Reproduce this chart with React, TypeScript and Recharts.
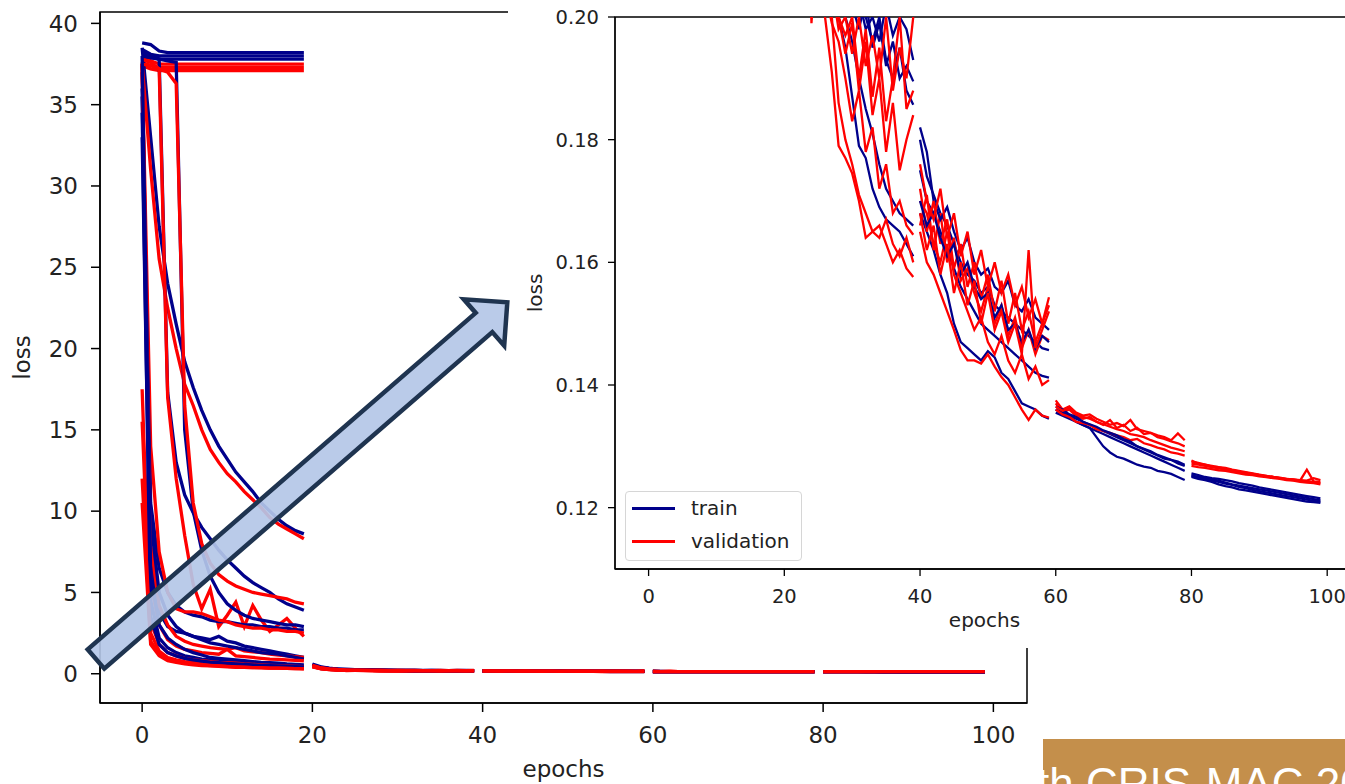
import { Line, LineChart, ReferenceArea, XAxis, YAxis } from "recharts";

const NAVY = "#00008b";
const RED = "#ff0000";
const INK = "#222222";
const FONT = "'DejaVu Sans', sans-serif";

const epochTicks = [0, 20, 40, 60, 80, 100];
const lossTicks = [0, 5, 10, 15, 20, 25, 30, 35, 40];
const zoomLossTicks = [0.12, 0.14, 0.16, 0.18, 0.2];
const epochDomain: [number, number] = [-4.95, 103.95];
const lossDomain: [number, number] = [-1.8, 40.7];
const zoomLossDomain: [number, number] = [0.11, 0.2];

// training restarts from a checkpoint every 20 epochs
const stageStarts = [0, 20, 40, 60, 80];

// stage 0: epochs 0-19
const train0 = [
    [38.8, 38.7, 38.3, 38.2, 38.2, 38.2, 38.2, 38.2, 38.2, 38.2, 38.2, 38.2, 38.2, 38.2, 38.2, 38.2, 38.2, 38.2, 38.2, 38.2],
    [38.4, 38.1, 38.0, 38.0, 38.0, 38.0, 38.0, 38.0, 38.0, 38.0, 38.0, 38.0, 38.0, 38.0, 38.0, 38.0, 38.0, 38.0, 38.0, 38.0],
    [38.0, 37.9, 37.8, 37.8, 37.8, 37.8, 37.8, 37.8, 37.8, 37.8, 37.8, 37.8, 37.8, 37.8, 37.8, 37.8, 37.8, 37.8, 37.8, 37.8],
    [38.5, 33.0, 27.5, 24.0, 21.5, 19.2, 17.6, 16.2, 15.0, 14.0, 13.2, 12.4, 11.8, 11.2, 10.5, 10.0, 9.5, 9.1, 8.8, 8.6],
    [38.2, 38.0, 37.8, 17.3, 13.0, 11.0, 9.9, 9.0, 8.3, 7.6, 7.0, 6.5, 6.0, 5.6, 5.3, 5.0, 4.6, 4.3, 4.1, 3.9],
    [38.0, 37.9, 37.8, 37.7, 37.6, 15.0, 10.0, 7.6, 6.0, 5.0, 4.3, 3.9, 3.6, 3.4, 3.3, 3.2, 3.1, 3.0, 3.0, 2.9],
    [37.0, 10.5, 6.5, 5.0, 4.2, 3.8, 3.6, 3.5, 3.3, 3.2, 3.2, 3.1, 3.0, 3.0, 2.9, 2.9, 2.8, 2.8, 2.7, 2.7],
    [35.5, 7.0, 3.8, 2.9, 2.6, 2.5, 2.3, 2.2, 2.1, 2.3, 2.0, 1.9, 1.7, 1.6, 1.5, 1.4, 1.3, 1.2, 1.1, 1.0],
    [36.0, 9.5, 5.0, 3.6, 2.9, 2.5, 2.3, 2.1, 1.9, 1.8, 1.7, 1.6, 1.5, 1.4, 1.3, 1.25, 1.2, 1.1, 1.0, 0.9],
    [38.0, 6.0, 3.0, 2.2, 1.8, 1.5, 1.3, 1.15, 1.0, 0.95, 0.9, 0.85, 0.8, 0.75, 0.7, 0.68, 0.65, 0.6, 0.58, 0.55],
    [33.0, 4.5, 2.2, 1.6, 1.3, 1.1, 1.0, 0.9, 0.85, 0.8, 0.75, 0.7, 0.65, 0.6, 0.58, 0.55, 0.52, 0.5, 0.48, 0.45],
    [34.5, 3.5, 1.8, 1.3, 1.1, 0.95, 0.85, 0.78, 0.72, 0.68, 0.64, 0.6, 0.57, 0.54, 0.52, 0.5, 0.48, 0.46, 0.44, 0.42],
];
const val0 = [
    [38.0, 37.7, 37.5, 37.5, 37.5, 37.5, 37.5, 37.5, 37.5, 37.5, 37.5, 37.5, 37.5, 37.5, 37.5, 37.5, 37.5, 37.5, 37.5, 37.5],
    [37.6, 37.4, 37.3, 37.3, 37.3, 37.3, 37.3, 37.3, 37.3, 37.3, 37.3, 37.3, 37.3, 37.3, 37.3, 37.3, 37.3, 37.3, 37.3, 37.3],
    [37.4, 37.2, 37.1, 37.1, 37.1, 37.1, 37.1, 37.1, 37.1, 37.1, 37.1, 37.1, 37.1, 37.1, 37.1, 37.1, 37.1, 37.1, 37.1, 37.1],
    [37.5, 31.0, 25.5, 22.5, 20.0, 17.8, 16.5, 15.0, 13.8, 13.0, 12.3, 11.8, 11.2, 10.7, 10.2, 9.6, 9.2, 8.9, 8.6, 8.3],
    [37.8, 37.6, 37.2, 17.0, 12.0, 8.5, 5.5, 4.0, 5.2, 2.9, 3.6, 4.4, 2.9, 4.2, 3.3, 2.6, 3.0, 3.4, 2.8, 2.3],
    [37.5, 37.4, 37.2, 37.0, 36.3, 16.5, 10.5, 8.0, 6.8, 6.1, 5.7, 5.4, 5.2, 5.0, 4.9, 4.8, 4.7, 4.6, 4.4, 4.3],
    [37.5, 14.0, 7.5, 5.0, 4.0, 3.8, 3.8, 3.7, 3.5, 3.3, 3.2, 3.0, 2.9, 2.8, 2.8, 2.7, 2.7, 2.6, 2.6, 2.5],
    [37.4, 8.0, 4.2, 3.0, 2.3, 2.0, 1.8, 1.7, 1.6, 1.55, 1.5, 1.6, 1.4, 1.35, 1.3, 1.2, 1.15, 1.1, 1.05, 1.0],
    [37.6, 5.5, 3.0, 2.1, 1.7, 1.5, 1.4, 1.3, 1.25, 1.2, 1.5, 1.1, 1.05, 1.0, 0.95, 0.9, 0.88, 0.85, 0.82, 0.8],
    [17.5, 2.5, 1.4, 1.0, 0.85, 0.75, 0.7, 0.62, 0.58, 0.55, 0.5, 0.48, 0.45, 0.42, 0.4, 0.38, 0.36, 0.35, 0.34, 0.32],
    [15.5, 3.2, 1.8, 1.3, 1.1, 0.95, 0.85, 0.8, 0.75, 0.7, 0.68, 0.65, 0.6, 0.58, 0.55, 0.52, 0.5, 0.48, 0.45, 0.43],
    [12.0, 2.0, 1.2, 0.9, 0.75, 0.65, 0.6, 0.55, 0.5, 0.48, 0.45, 0.42, 0.4, 0.38, 0.37, 0.35, 0.34, 0.33, 0.32, 0.3],
    [10.5, 1.8, 1.1, 0.8, 0.7, 0.6, 0.55, 0.5, 0.48, 0.45, 0.43, 0.4, 0.39, 0.38, 0.36, 0.35, 0.34, 0.33, 0.32, 0.31],
];

// stage 1: epochs 20-39
const train1 = [
    [0.45, 0.32, 0.27, 0.245, 0.23, 0.22, 0.21, 0.205, 0.2, 0.195, 0.187, 0.179, 0.177, 0.172, 0.169, 0.167, 0.166, 0.165, 0.163, 0.161],
    [0.5, 0.36, 0.3, 0.26, 0.24, 0.23, 0.22, 0.212, 0.205, 0.2, 0.196, 0.19, 0.185, 0.181, 0.176, 0.172, 0.17, 0.168, 0.167, 0.166],
    [0.55, 0.4, 0.32, 0.28, 0.26, 0.245, 0.232, 0.225, 0.218, 0.212, 0.206, 0.203, 0.198, 0.2, 0.196, 0.202, 0.197, 0.2, 0.198, 0.193],
    [0.52, 0.38, 0.31, 0.27, 0.25, 0.238, 0.228, 0.22, 0.213, 0.208, 0.202, 0.198, 0.203, 0.195, 0.199, 0.192, 0.196, 0.19, 0.192, 0.1895],
    [0.6, 0.42, 0.34, 0.29, 0.265, 0.25, 0.24, 0.23, 0.222, 0.215, 0.21, 0.205, 0.2, 0.196, 0.2, 0.193, 0.19, 0.195, 0.188, 0.1857],
];
const val1 = [
    [0.42, 0.3, 0.25, 0.225, 0.21, 0.204, 0.2, 0.191, 0.179, 0.177, 0.1745, 0.17, 0.164, 0.165, 0.166, 0.163, 0.16, 0.162, 0.159, 0.1576],
    [0.44, 0.32, 0.26, 0.23, 0.215, 0.206, 0.202, 0.2, 0.186, 0.18, 0.176, 0.171, 0.168, 0.165, 0.164, 0.167, 0.163, 0.161, 0.164, 0.16],
    [0.46, 0.33, 0.27, 0.24, 0.222, 0.21, 0.204, 0.199, 0.196, 0.19, 0.183, 0.188, 0.178, 0.182, 0.172, 0.176, 0.168, 0.17, 0.166, 0.1645],
    [0.5, 0.35, 0.29, 0.25, 0.23, 0.218, 0.21, 0.203, 0.2, 0.194, 0.199, 0.188, 0.196, 0.184, 0.19, 0.178, 0.186, 0.175, 0.18, 0.184],
    [0.52, 0.37, 0.3, 0.26, 0.24, 0.226, 0.215, 0.207, 0.2, 0.197, 0.2, 0.19, 0.198, 0.187, 0.195, 0.183, 0.19, 0.2, 0.185, 0.188],
    [0.48, 0.34, 0.28, 0.25, 0.199, 0.215, 0.21, 0.205, 0.198, 0.2, 0.194, 0.2, 0.192, 0.197, 0.19, 0.2, 0.188, 0.195, 0.19, 0.2],
];

// stage 2: epochs 40-59
const train2 = [
    [0.168, 0.165, 0.162, 0.158, 0.155, 0.15, 0.147, 0.146, 0.145, 0.144, 0.1455, 0.1445, 0.142, 0.141, 0.139, 0.137, 0.1365, 0.136, 0.135, 0.1345],
    [0.175, 0.17, 0.168, 0.165, 0.162, 0.159, 0.156, 0.154, 0.152, 0.15, 0.149, 0.148, 0.147, 0.146, 0.145, 0.144, 0.143, 0.142, 0.1415, 0.1412],
    [0.18, 0.174, 0.171, 0.168, 0.166, 0.163, 0.16, 0.158, 0.157, 0.155, 0.156, 0.153, 0.152, 0.151, 0.15, 0.149, 0.148, 0.147, 0.146, 0.1457],
    [0.182, 0.178, 0.17, 0.167, 0.169, 0.165, 0.162, 0.164, 0.16, 0.158, 0.159, 0.156, 0.155, 0.157, 0.153, 0.152, 0.154, 0.151, 0.15, 0.149],
    [0.17, 0.166, 0.168, 0.164, 0.161, 0.163, 0.158, 0.16, 0.156, 0.154, 0.155, 0.151, 0.153, 0.149, 0.15, 0.147, 0.149, 0.146, 0.148, 0.147],
];
const val2 = [
    [0.165, 0.16, 0.158, 0.155, 0.152, 0.149, 0.1457, 0.144, 0.144, 0.1435, 0.145, 0.143, 0.1413, 0.14, 0.138, 0.136, 0.1343, 0.136, 0.135, 0.1347],
    [0.17, 0.168, 0.163, 0.16, 0.165, 0.158, 0.155, 0.152, 0.149, 0.151, 0.147, 0.145, 0.148, 0.144, 0.142, 0.145, 0.141, 0.143, 0.14, 0.1408],
    [0.166, 0.171, 0.162, 0.168, 0.16, 0.164, 0.157, 0.159, 0.155, 0.152, 0.156, 0.15, 0.153, 0.148, 0.151, 0.146, 0.149, 0.145, 0.148, 0.1473],
    [0.172, 0.165, 0.17, 0.163, 0.167, 0.159, 0.163, 0.156, 0.16, 0.154, 0.158, 0.152, 0.157, 0.15, 0.155, 0.149, 0.152, 0.147, 0.15, 0.1543],
    [0.168, 0.162, 0.166, 0.158, 0.163, 0.155, 0.16, 0.153, 0.157, 0.15, 0.155, 0.149, 0.152, 0.147, 0.15, 0.145, 0.162, 0.146, 0.149, 0.152],
    [0.176, 0.17, 0.167, 0.172, 0.164, 0.168, 0.161, 0.165, 0.158, 0.162, 0.156, 0.16, 0.155, 0.158, 0.153, 0.156, 0.151, 0.154, 0.15, 0.153],
];

// stage 3: epochs 60-79
const train3 = [
    [0.136, 0.1355, 0.135, 0.134, 0.1335, 0.133, 0.1315, 0.13, 0.129, 0.1283, 0.128, 0.1275, 0.127, 0.1267, 0.1265, 0.126, 0.1258, 0.1255, 0.125, 0.1245],
    [0.1355, 0.135, 0.1345, 0.134, 0.1335, 0.133, 0.1325, 0.132, 0.1315, 0.131, 0.1305, 0.13, 0.1295, 0.129, 0.1285, 0.128, 0.1275, 0.127, 0.1265, 0.126],
    [0.136, 0.1355, 0.135, 0.1345, 0.134, 0.1335, 0.133, 0.1325, 0.132, 0.1315, 0.131, 0.1305, 0.13, 0.1295, 0.129, 0.1285, 0.128, 0.1278, 0.1272, 0.1268],
    [0.1365, 0.136, 0.1352, 0.1348, 0.134, 0.1336, 0.1332, 0.1326, 0.1322, 0.1318, 0.1312, 0.1308, 0.13, 0.1296, 0.1292, 0.1286, 0.1282, 0.1278, 0.1275, 0.127],
];
const val3 = [
    [0.137, 0.1355, 0.136, 0.135, 0.1345, 0.1348, 0.134, 0.1335, 0.1343, 0.133, 0.1335, 0.1325, 0.133, 0.132, 0.1322, 0.1315, 0.1312, 0.1308, 0.1305, 0.13],
    [0.1375, 0.136, 0.1365, 0.1355, 0.135, 0.1352, 0.1345, 0.134, 0.1335, 0.1338, 0.1333, 0.1343, 0.1328, 0.1325, 0.1322, 0.1318, 0.1315, 0.131, 0.1321, 0.131],
    [0.136, 0.1352, 0.1348, 0.134, 0.1338, 0.1335, 0.1328, 0.1325, 0.1322, 0.1318, 0.1315, 0.131, 0.1312, 0.1305, 0.1302, 0.1298, 0.1295, 0.129, 0.1288, 0.1285],
    [0.1365, 0.1358, 0.1362, 0.1352, 0.1348, 0.1345, 0.134, 0.1336, 0.1332, 0.1328, 0.1325, 0.132, 0.1318, 0.1315, 0.131, 0.1306, 0.1302, 0.1298, 0.1295, 0.1292],
];

// stage 4: epochs 80-99
const train4 = [
    [0.1253, 0.125, 0.1248, 0.1246, 0.1244, 0.1241, 0.1238, 0.1236, 0.1234, 0.1232, 0.123, 0.1228, 0.1226, 0.1224, 0.1222, 0.122, 0.1218, 0.1216, 0.1214, 0.1212],
    [0.125, 0.1247, 0.1245, 0.1242, 0.1238, 0.1235, 0.1233, 0.123, 0.1228, 0.1226, 0.1224, 0.1222, 0.122, 0.1218, 0.1216, 0.1214, 0.1212, 0.121, 0.1209, 0.1208],
    [0.1256, 0.1253, 0.125, 0.1248, 0.1247, 0.1245, 0.1243, 0.124, 0.1238, 0.1236, 0.1233, 0.1231, 0.1229, 0.1227, 0.1225, 0.1223, 0.1221, 0.1219, 0.1217, 0.1215],
    [0.1252, 0.1249, 0.1246, 0.1244, 0.1242, 0.1239, 0.1237, 0.1234, 0.1232, 0.1229, 0.1227, 0.1225, 0.1223, 0.1221, 0.1219, 0.1217, 0.1215, 0.1213, 0.1211, 0.121],
];
const val4 = [
    [0.1277, 0.1272, 0.127, 0.1268, 0.1266, 0.1265, 0.1262, 0.126, 0.1258, 0.1256, 0.1254, 0.1252, 0.125, 0.1249, 0.1247, 0.1246, 0.1244, 0.1243, 0.1242, 0.124],
    [0.1272, 0.127, 0.1268, 0.1266, 0.1264, 0.1262, 0.126, 0.1258, 0.1257, 0.1255, 0.1253, 0.1251, 0.125, 0.1248, 0.1246, 0.1245, 0.1244, 0.1262, 0.1243, 0.1242],
    [0.1268, 0.1266, 0.1265, 0.1263, 0.1261, 0.126, 0.1258, 0.1256, 0.1254, 0.1253, 0.1251, 0.125, 0.1248, 0.1247, 0.1245, 0.1244, 0.1242, 0.1241, 0.124, 0.1238],
    [0.1275, 0.1273, 0.127, 0.1267, 0.1266, 0.1263, 0.1261, 0.1259, 0.1256, 0.1255, 0.1253, 0.1252, 0.125, 0.1248, 0.1247, 0.1246, 0.1245, 0.1244, 0.1248, 0.1245],
];

type Point = { epoch: number; loss: number };
type Run = { id: string; color: string; points: Point[] };

const toPoints = (start: number, values: number[]): Point[] =>
    values.map((loss, i) => ({ epoch: start + i, loss }));

// train / validation of one stage, interleaved like the original plot calls
const stageRuns = (stage: number, train: number[][], val: number[][]): Run[] => {
    const out: Run[] = [];
    const n = Math.max(train.length, val.length);
    for (let i = 0; i < n; i++) {
        if (train[i]) out.push({ id: `s${stage}t${i}`, color: NAVY, points: toPoints(stageStarts[stage], train[i]) });
        if (val[i]) out.push({ id: `s${stage}v${i}`, color: RED, points: toPoints(stageStarts[stage], val[i]) });
    }
    return out;
};

const laterRuns = [
    ...stageRuns(1, train1, val1),
    ...stageRuns(2, train2, val2),
    ...stageRuns(3, train3, val3),
    ...stageRuns(4, train4, val4),
];
const allRuns = [...stageRuns(0, train0, val0), ...laterRuns];

const bigTick = { fill: INK, fontSize: 23, fontFamily: FONT };
const smallTick = { fill: INK, fontSize: 19.5, fontFamily: FONT };

function OverviewChart() {
    return (
        <LineChart width={1040} height={784} margin={{ top: 12, right: 13, bottom: 0, left: 0 }}>
            <XAxis
                dataKey="epoch"
                type="number"
                domain={epochDomain}
                allowDataOverflow
                ticks={epochTicks}
                interval={0}
                height={81}
                tick={bigTick}
                tickSize={9}
                tickMargin={15}
                stroke="#000"
                strokeWidth={1.5}
                label={{ value: "epochs", position: "insideBottom", offset: 7, fill: INK, fontSize: 23, fontFamily: FONT }}
            />
            <YAxis
                type="number"
                domain={lossDomain}
                allowDataOverflow
                ticks={lossTicks}
                interval={0}
                width={100}
                tick={bigTick}
                tickSize={9}
                tickMargin={13}
                stroke="#000"
                strokeWidth={1.5}
                label={{ value: "loss", angle: -90, position: "insideLeft", offset: 22, textAnchor: "middle", fill: INK, fontSize: 23, fontFamily: FONT }}
            />
            <ReferenceArea
                x1={epochDomain[0]}
                x2={epochDomain[1]}
                y1={lossDomain[0]}
                y2={lossDomain[1]}
                ifOverflow="visible"
                fill="none"
                stroke="#000"
                strokeWidth={1.5}
            />
            {allRuns.map((r) => (
                <Line
                    key={r.id}
                    data={r.points}
                    dataKey="loss"
                    type="linear"
                    stroke={r.color}
                    strokeWidth={3.3}
                    dot={false}
                    activeDot={false}
                    isAnimationActive={false}
                />
            ))}
        </LineChart>
    );
}

function ZoomChart() {
    return (
        <LineChart width={860} height={648} margin={{ top: 17, right: 14, bottom: 0, left: 0 }}>
            <XAxis
                dataKey="epoch"
                type="number"
                domain={epochDomain}
                allowDataOverflow
                ticks={epochTicks}
                interval={0}
                height={79}
                tick={smallTick}
                tickSize={7}
                tickMargin={13}
                stroke="#000"
                strokeWidth={1.3}
                label={{ value: "epochs", position: "insideBottom", offset: 21, fill: INK, fontSize: 20, fontFamily: FONT }}
            />
            <YAxis
                type="number"
                domain={zoomLossDomain}
                allowDataOverflow
                ticks={zoomLossTicks}
                interval={0}
                width={107}
                tick={smallTick}
                tickSize={7}
                tickMargin={9}
                tickFormatter={(v: number) => v.toFixed(2)}
                stroke="#000"
                strokeWidth={1.3}
                label={{ value: "loss", angle: -90, position: "insideLeft", offset: 27, textAnchor: "middle", fill: INK, fontSize: 20, fontFamily: FONT }}
            />
            <ReferenceArea
                x1={epochDomain[0]}
                x2={epochDomain[1]}
                y1={zoomLossDomain[0]}
                y2={zoomLossDomain[1]}
                ifOverflow="visible"
                fill="none"
                stroke="#000"
                strokeWidth={1.3}
            />
            {laterRuns.map((r) => (
                <Line
                    key={r.id}
                    data={r.points}
                    dataKey="loss"
                    type="linear"
                    stroke={r.color}
                    strokeWidth={2.3}
                    dot={false}
                    activeDot={false}
                    isAnimationActive={false}
                />
            ))}
        </LineChart>
    );
}

function ZoomLegend() {
    const rows = [
        { label: "train", color: NAVY, top: 16 },
        { label: "validation", color: RED, top: 49 },
    ];
    return (
        <div
            style={{
                position: "absolute",
                left: 117,
                top: 491,
                width: 175,
                height: 68,
                border: "1px solid #d6d6d6",
                borderRadius: 4,
                background: "rgba(255,255,255,0.85)",
                fontFamily: FONT,
                fontSize: 20,
                color: INK,
            }}
        >
            {rows.map((row) => (
                <div key={row.label}>
                    <div style={{ position: "absolute", left: 6, top: row.top - 1, width: 43, height: 2.5, background: row.color }} />
                    <span style={{ position: "absolute", left: 65, top: row.top, transform: "translateY(-52%)", lineHeight: 1 }}>
                        {row.label}
                    </span>
                </div>
            ))}
        </div>
    );
}

export default function App() {
    return (
        <div style={{ position: "absolute", left: 0, top: 0, width: 1345, height: 784, overflow: "hidden", background: "#fff" }}>
            <div style={{ position: "absolute", left: 0, top: 0 }}>
                <OverviewChart />
            </div>
            <div style={{ position: "absolute", left: 508, top: 0, width: 837, height: 648, overflow: "hidden", background: "#fff" }}>
                <ZoomChart />
                <ZoomLegend />
            </div>
            <div style={{ position: "absolute", left: 1043, top: 739, width: 302, height: 45, overflow: "hidden", background: "#c48f4b" }}>
                <svg width={302} height={45}>
                    <text x={-6} y={60} fill="#fff" fontSize={44} fontFamily="'Liberation Sans', Arial, sans-serif">
                        th CRIS-MAC 20
                    </text>
                </svg>
            </div>
            <svg width={1345} height={784} style={{ position: "absolute", left: 0, top: 0, pointerEvents: "none" }}>
                <polygon
                    points="87.7,649.4 475.7,312.9 463.8,299.3 507.3,302.3 504.2,345.7 492.3,332.1 104.3,668.6"
                    fill="#b4c7e7"
                    fillOpacity={0.92}
                    stroke="#1f3450"
                    strokeWidth={4.5}
                    strokeLinejoin="miter"
                />
            </svg>
        </div>
    );
}
